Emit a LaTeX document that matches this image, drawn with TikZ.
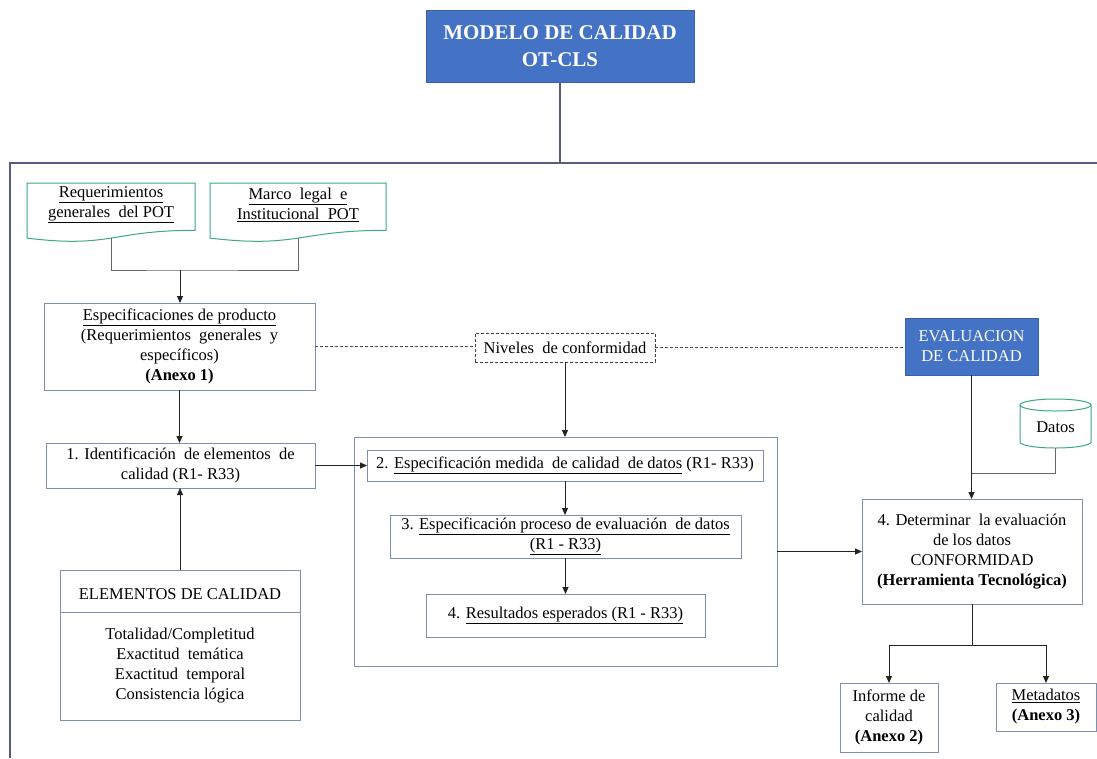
\documentclass[tikz,border=0pt]{standalone}
\usepackage{fontspec}
\setmainfont{Liberation Serif}
\usetikzlibrary{arrows.meta,calc}

\definecolor{hdrblue}{RGB}{68,114,196}
\definecolor{boxline}{RGB}{125,145,175}
\definecolor{frameline}{RGB}{85,95,125}
\definecolor{docgreen}{RGB}{60,170,125}
\definecolor{wirec}{RGB}{35,35,35}

\newcommand{\bodyfont}{\fontsize{16.5}{20}\selectfont}
\newcommand{\titlefont}{\fontsize{21}{27}\selectfont}

% flowchart "document" outline: left x, right x, top y, nominal height
\newcommand{\docshape}[4]{%
  \pgfmathsetmacro\dxm{(#1+#2)/2}%
  \pgfmathsetmacro\dyr{#3+0.802*#4}%
  \pgfmathsetmacro\dyc{#3+1.109*#4}%
  \pgfmathsetmacro\dyl{#3+0.934*#4}%
  \draw[draw=docgreen,line width=1pt,fill=white]
    (#1,#3) -- (#2,#3) -- (#2,\dyr) .. controls (\dxm,\dyr) and (\dxm,\dyc) .. (#1,\dyl) -- cycle;}

\begin{document}
\begin{tikzpicture}[x=1pt,y=-1pt,
  every node/.style={inner sep=0pt,outer sep=0pt},
  plainbox/.style={draw=boxline,line width=1pt,fill=white,align=center,font=\bodyfont},
  bluebox/.style={fill=hdrblue,draw=hdrblue!85!black,line width=0.6pt,align=center,text=white},
  dashbox/.style={draw=black!75,dash pattern=on 3pt off 2pt,line width=0.9pt,fill=white,align=center,font=\bodyfont},
  doctext/.style={align=center,font=\bodyfont},
  wire/.style={draw=wirec,line width=1pt},
  softwire/.style={draw=black!60,line width=1pt},
  arrow/.style={wire,-{Triangle[length=7pt,width=6pt]}},
  dashwire/.style={draw=black!70,line width=0.8pt,dash pattern=on 3pt off 2pt},
  framewire/.style={draw=frameline,line width=1.1pt}]

\useasboundingbox (0,0) rectangle (1097,758);
\fill[white] (0,0) rectangle (1097,758);

% ---------- title and outer frame ----------
\node[bluebox,minimum width=268,minimum height=72,font=\titlefont\bfseries] (model) at (560,46)
  {MODELO DE CALIDAD\\OT-CLS};
\coordinate (frameTL) at (10,163);
\coordinate (frameTR) at (1097,163);
\coordinate (frameBL) at (10,758);
\draw[framewire] (frameTR) -- (frameTL) -- (frameBL);
\draw[framewire] (model.south) -- (model.south |- frameTL);

% ---------- source documents ----------
\docshape{27}{195}{183}{59}
\docshape{210}{386}{183}{59}
\node[doctext,minimum width=168,minimum height=44] (req) at (111,205)
  {\underline{Requerimientos}\\\underline{generales\ \ del POT}};
\node[doctext,minimum width=176,minimum height=44] (marco) at (298,205)
  {\underline{Marco\ \ legal\ \ e}\\\underline{Institucional\ \ POT}};
\coordinate (reqb) at (111,238);
\coordinate (marcob) at (298,238);
\coordinate (docjoin) at (180,270);

% ---------- left column ----------
\node[plainbox,minimum width=271,minimum height=87] (espec) at (179.5,346.5)
  {\underline{Especificaciones de producto}\\(Requerimientos\ \ generales\ \ y\\específicos)\\\textbf{(Anexo 1)}};
\node[plainbox,minimum width=269,minimum height=45] (ident) at (180.5,465.5)
  {1. Identificación\ \ de elementos\ \ de\\calidad (R1- R33)};
\node[plainbox,minimum width=240,minimum height=42] (elemhead) at (180,591)
  {\raisebox{-3pt}[\height][\depth]{ELEMENTOS DE CALIDAD}};
\node[plainbox,minimum width=240,minimum height=108] (elembody) at (180,666)
  {Totalidad/Completitud\\Exactitud\ \ temática\\Exactitud\ \ temporal\\Consistencia lógica};

% ---------- conformity levels and evaluation ----------
\node[dashbox,minimum width=180,minimum height=29] (niveles) at (565,347.5)
  {Niveles\ \ de conformidad};
\node[bluebox,minimum width=133,minimum height=57,font=\bodyfont] (evalc) at (971.5,346.5)
  {EVALUACION\\DE CALIDAD};

% ---------- central process block ----------
\node[draw=boxline,line width=1pt,minimum width=423,minimum height=229] (inner) at (565.5,551.5) {};
\node[plainbox,minimum width=396,minimum height=31] (s2) at (565,465.5)
  {2. \underline{Especificación medida\ \ de calidad\ \ de datos} (R1- R33)};
\node[plainbox,minimum width=351,minimum height=43] (s3) at (565.5,536.5)
  {3. \underline{Especificación proceso de evaluación\ \ de datos}\\\underline{(R1 - R33)}};
\node[plainbox,minimum width=279,minimum height=43] (s4) at (565.5,615.5)
  {4. \underline{Resultados esperados (R1 - R33)}};

% ---------- data store (cylinder) and assessment ----------
\draw[draw=docgreen,line width=1pt,fill=white]
  (1020,405) -- (1020,442)
  arc[start angle=180,end angle=0,x radius=35.5,y radius=6]
  -- (1091,405)
  arc[start angle=0,end angle=-180,x radius=35.5,y radius=6];
\draw[draw=docgreen,line width=1pt] (1020,405)
  arc[start angle=180,end angle=0,x radius=35.5,y radius=6];
\node[doctext,minimum width=71,minimum height=49] (datos) at (1055.5,423.5)
  {\raisebox{-4pt}[\height][\depth]{Datos}};

\node[plainbox,minimum width=220,minimum height=105] (deter) at (972,551.5)
  {4. Determinar\ \ la evaluación\\de los datos\\CONFORMIDAD\\\textbf{(Herramienta Tecnológica)}};
\node[plainbox,minimum width=98,minimum height=69] (inf) at (889,717.5)
  {Informe de\\calidad\\\textbf{(Anexo 2)}};
\node[plainbox,minimum width=100,minimum height=48] (meta) at (1046,707)
  {\underline{Metadatos}\\\textbf{(Anexo 3)}};
\coordinate (datajoin) at (971.5,473);
\coordinate (split) at (972,645);

% ---------- connectors ----------
\draw[softwire] (reqb) |- (docjoin) -| (marcob);
\draw[arrow] (docjoin) -- (docjoin |- espec.north);
\draw[dashwire] (espec.east) -- (espec.east -| niveles.west);
\draw[dashwire] (niveles.east) -- (niveles.east -| evalc.west);
\draw[arrow] (espec.south) -- (espec.south |- ident.north);
\draw[arrow] (elemhead.north) -- (elemhead.north |- ident.south);
\draw[arrow] (niveles.south) -- (niveles.south |- inner.north);
\draw[arrow] (ident.east) -- (ident.east -| s2.west);
\draw[arrow] (s2.south) -- (s2.south |- s3.north);
\draw[arrow] (s3.south) -- (s3.south |- s4.north);
\draw[arrow] (inner.east) -- (deter.west);
\draw[arrow] (evalc.south) -- (evalc.south |- deter.north);
\draw[softwire] (datos.south) |- (datajoin);
\draw[wire] (deter.south) -- (split);
\draw[arrow] (split) -| (inf.north);
\draw[arrow] (split) -| (meta.north);

\end{tikzpicture}
\end{document}
